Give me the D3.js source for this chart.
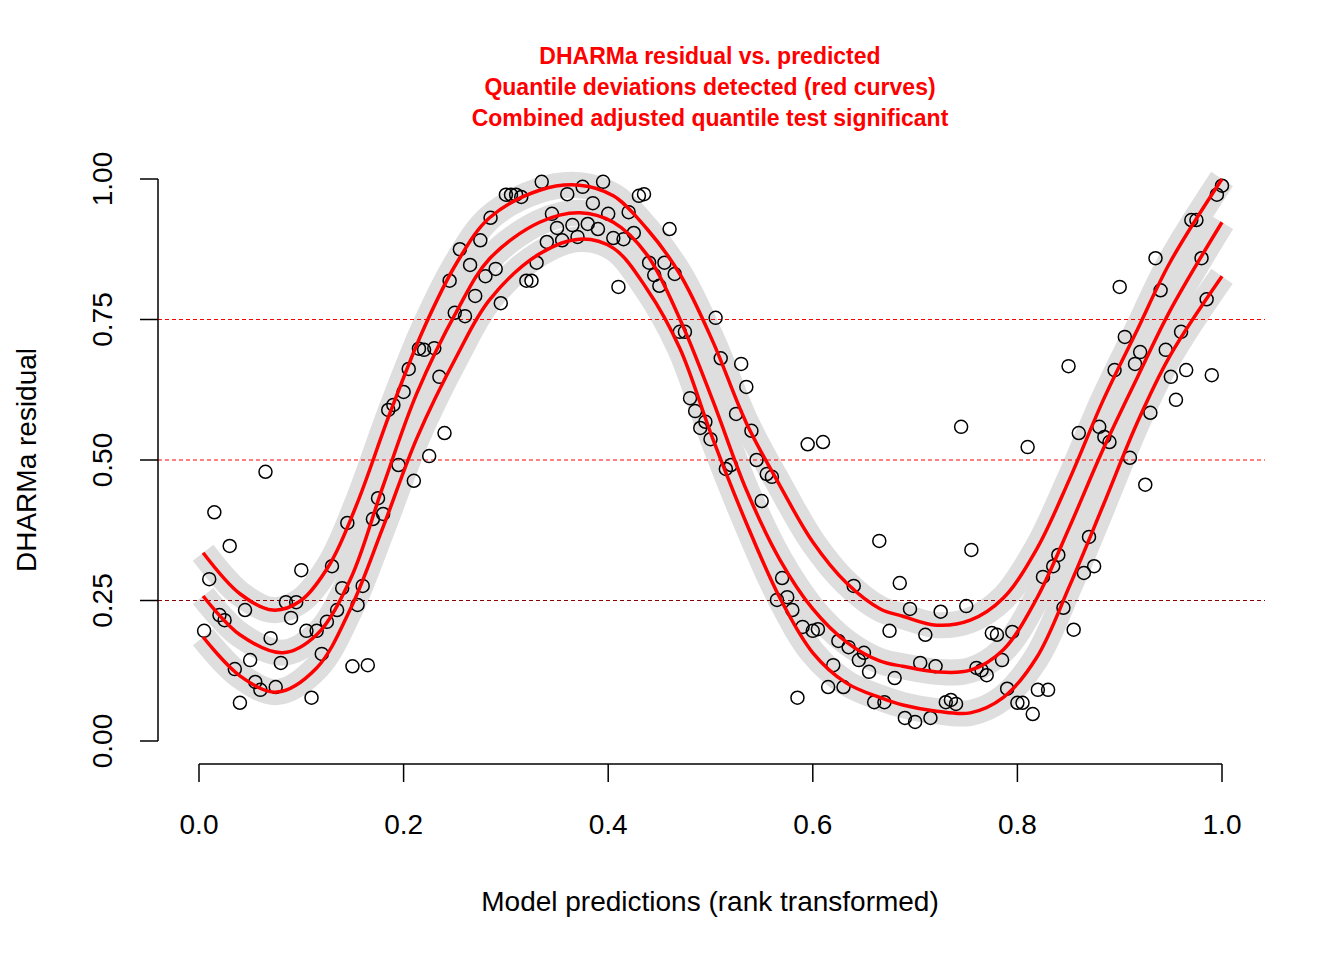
<!DOCTYPE html>
<html>
<head>
<meta charset="utf-8">
<script src="https://cdn.jsdelivr.net/npm/d3@7"></script>
<style>
  body { margin: 0; background: #fff; }
  text { font-family: Arial, "Liberation Sans", sans-serif; }
</style>
</head>
<body>
<div id="chart"></div>
<script>
// residuals in rank order of the model predictions
var residuals = [
  .196,.288,.407,.224,.215,.347,.128,.068,.233,.144,.105,.091,.479,.183,.096,.139,.247,.219,.247,.304,
  .196,.077,.196,.155,.212,.311,.233,.272,.388,.133,.242,.276,.135,.395,.432,.404,.589,.598,.491,.621,
  .662,.463,.698,.696,.507,.699,.648,.548,.819,.762,.875,.756,.847,.792,.891,.827,.931,.840,.779,.972,
  .972,.972,.968,.819,.819,.851,.995,.888,.938,.913,.891,.973,.918,.897,.986,.920,.957,.911,.995,.938,
  .895,.808,.893,.941,.904,.970,.973,.851,.829,.810,.851,.911,.831,.728,.728,.610,.587,.557,.568,.537,
  .753,.681,.484,.491,.582,.671,.630,.552,.500,.427,.475,.470,.251,.290,.256,.233,.077,.203,.528,.196,
  .199,.532,.096,.135,.178,.096,.167,.276,.144,.157,.123,.069,.356,.069,.196,.112,.281,.041,.235,.034,
  .139,.189,.041,.133,.230,.069,.073,.066,.559,.240,.340,.130,.126,.117,.192,.189,.144,.093,.194,.068,
  .068,.523,.048,.091,.292,.091,.311,.331,.237,.667,.198,.548,.299,.363,.311,.559,.541,.532,.660,.808,
  .719,.504,.671,.692,.456,.584,.859,.802,.696,.648,.607,.728,.660,.927,.927,.859,.786,.651,.972,.988
];

// fitted quantile curves (x = rank-transformed prediction, y = residual)
var q75x = [.004,.040,.072,.099,.128,.154,.187,.219,.252,.284,.333,.372,.405,.438,.470,.502,.535,.568,.600,.633,.666,.688,.721,.754,.786,.819,.851,.884,.917,.949,1.0];
var q75y = [.335,.262,.233,.249,.315,.420,.585,.731,.851,.931,.980,.989,.970,.911,.831,.712,.566,.454,.354,.281,.235,.222,.206,.215,.254,.342,.466,.607,.731,.851,1.0];
var q50x = [.004,.040,.082,.115,.148,.180,.213,.252,.284,.333,.372,.405,.438,.470,.502,.535,.568,.600,.633,.666,.688,.721,.754,.786,.819,.851,.884,.917,.949,1.0];
var q50y = [.258,.189,.157,.189,.288,.454,.619,.765,.858,.923,.940,.923,.865,.751,.607,.447,.322,.235,.176,.142,.133,.123,.126,.162,.254,.381,.520,.646,.765,.923];
var q25x = [.004,.040,.076,.115,.148,.180,.213,.252,.284,.333,.372,.405,.438,.470,.502,.535,.568,.600,.633,.666,.688,.721,.754,.786,.819,.851,.884,.917,.949,1.0];
var q25y = [.185,.116,.087,.130,.235,.381,.539,.685,.785,.867,.893,.877,.804,.699,.539,.388,.254,.157,.103,.077,.064,.053,.050,.077,.149,.276,.420,.566,.685,.827];

var quantiles = [0.25, 0.5, 0.75];
var quantileColors = ['#8b0000', 'red', 'red'];
var xTicks = [0, 0.2, 0.4, 0.6, 0.8, 1.0];
var yTicks = [0, 0.25, 0.5, 0.75, 1.0];
var titleLines = ['DHARMa residual vs. predicted', 'Quantile deviations detected (red curves)', 'Combined adjusted quantile test significant'];

var width = 1344, height = 960;
var svg = d3.select('#chart').append('svg').attr('width', width).attr('height', height);

var x = d3.scaleLinear().domain([0, 1]).range([199, 1222]);
var y = d3.scaleLinear().domain([0, 1]).range([741, 179]);
var n = residuals.length;

// title
svg.selectAll('.title').data(titleLines).enter().append('text')
  .attr('x', 710).attr('y', function(d, i) { return 58 + i * 31; })
  .attr('text-anchor', 'middle').attr('dominant-baseline', 'middle')
  .attr('fill', 'red').attr('font-weight', 'bold').attr('font-size', 23)
  .text(function(d) { return d; });

// confidence bands
var curves = [
  { xs: q25x, ys: q25y },
  { xs: q50x, ys: q50y },
  { xs: q75x, ys: q75y }
];
var line = d3.line().curve(d3.curveCatmullRom)
  .x(function(d) { return x(d[0]); }).y(function(d) { return y(d[1]); });

curves.forEach(function(c) {
  var pts = c.xs.map(function(v, i) { return [v, c.ys[i]]; });
  svg.append('path').attr('d', line(pts)).attr('fill', 'none')
    .attr('stroke', '#dedede').attr('stroke-width', 26).attr('stroke-linecap', 'butt');
});

// quantile reference lines
svg.selectAll('.hline').data(quantiles).enter().append('line')
  .attr('x1', 158).attr('x2', 1265)
  .attr('y1', function(d) { return y(d); }).attr('y2', function(d) { return y(d); })
  .attr('stroke', function(d, i) { return quantileColors[i]; })
  .attr('stroke-width', 1).attr('stroke-dasharray', '4,3');

// points
svg.selectAll('.pt').data(residuals).enter().append('circle')
  .attr('cx', function(d, i) { return x((i + 1) / n); })
  .attr('cy', function(d) { return y(d); })
  .attr('r', 6.5).attr('fill', 'none').attr('stroke', '#000').attr('stroke-width', 1.5);

// red quantile curves
curves.forEach(function(c) {
  var pts = c.xs.map(function(v, i) { return [v, c.ys[i]]; });
  svg.append('path').attr('d', line(pts)).attr('fill', 'none')
    .attr('stroke', 'red').attr('stroke-width', 3.5);
});

// x axis
var gx = svg.append('g');
gx.append('line').attr('x1', x(0)).attr('x2', x(1)).attr('y1', 764).attr('y2', 764).attr('stroke', '#000').attr('stroke-width', 1.5);
gx.selectAll('.xt').data(xTicks).enter().append('line')
  .attr('x1', x).attr('x2', x).attr('y1', 764).attr('y2', 782).attr('stroke', '#000').attr('stroke-width', 1.5);
gx.selectAll('.xl').data(xTicks).enter().append('text')
  .attr('x', x).attr('y', 834).attr('text-anchor', 'middle').attr('font-size', 28)
  .text(d3.format('.1f'));

// y axis
var gy = svg.append('g');
gy.append('line').attr('x1', 158).attr('x2', 158).attr('y1', y(0)).attr('y2', y(1)).attr('stroke', '#000').attr('stroke-width', 1.5);
gy.selectAll('.yt').data(yTicks).enter().append('line')
  .attr('x1', 140).attr('x2', 158).attr('y1', y).attr('y2', y).attr('stroke', '#000').attr('stroke-width', 1.5);
gy.selectAll('.yl').data(yTicks).enter().append('text')
  .attr('transform', function(d) { return 'translate(112,' + y(d) + ') rotate(-90)'; })
  .attr('text-anchor', 'middle').attr('font-size', 28)
  .text(d3.format('.2f'));

// axis titles
svg.append('text').attr('x', 710).attr('y', 911).attr('text-anchor', 'middle').attr('font-size', 28)
  .text('Model predictions (rank transformed)');
svg.append('text').attr('transform', 'translate(36,460) rotate(-90)').attr('text-anchor', 'middle').attr('font-size', 28)
  .text('DHARMa residual');
</script>
</body>
</html>
